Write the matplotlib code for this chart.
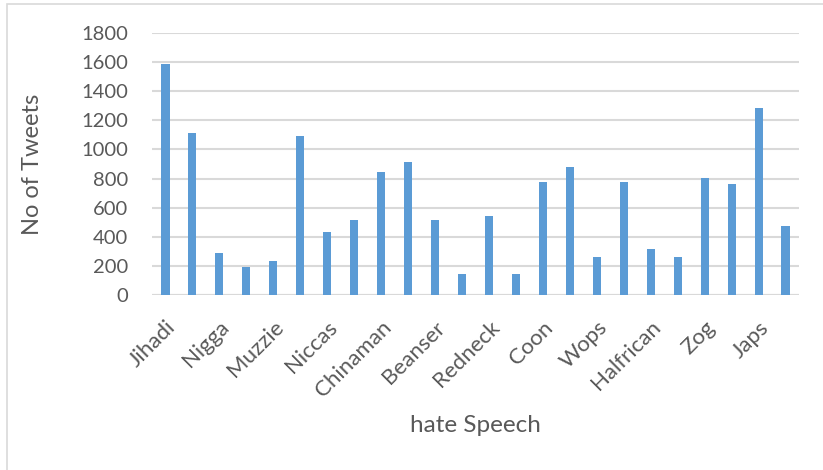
import matplotlib.pyplot as plt
from matplotlib.patches import Rectangle

# tweet counts per hate-speech term (24 terms, every other one labelled)
counts = [1585, 1115, 288, 195, 231, 1090, 435, 515, 845, 916, 515, 147,
          543, 144, 774, 882, 259, 778, 314, 259, 804, 760, 1283, 476]
tick_labels = ['Jihadi', 'Nigga', 'Muzzie', 'Niccas', 'Chinaman', 'Beanser',
               'Redneck', 'Coon', 'Wops', 'Halfrican', 'Zog', 'Japs']
yticks = [0, 200, 400, 600, 800, 1000, 1200, 1400, 1600, 1800]

plt.rcParams['font.family'] = ['Lato', 'DejaVu Sans']
grey = '#595959'

fig = plt.figure(figsize=(8.23, 4.70), dpi=100)
ax = fig.add_axes([152 / 823, 1 - 295 / 470, 647 / 823, 262 / 470])

x = list(range(len(counts)))
ax.bar(x, counts, width=0.3, color='#5b9bd5', zorder=3)

ax.set_xlim(-0.5, len(counts) - 0.5)
ax.set_ylim(0, 1800)
ax.set_yticks(yticks)
ax.set_yticklabels([str(v) for v in yticks], fontsize=14.5, color=grey)
ax.set_xticks(x[::2])
ax.set_xticklabels(tick_labels, rotation=45, ha='right', va='top',
                   rotation_mode='anchor', fontsize=16, color=grey)

ax.grid(axis='y', color='#d9d9d9', linewidth=1.5, zorder=0)
ax.tick_params(axis='y', length=0, pad=17)
ax.tick_params(axis='x', length=0, pad=16)
for s in ax.spines.values():
    s.set_visible(False)
ax.axhline(0, color='#d9d9d9', linewidth=1.5, zorder=2)

ax.set_ylabel('No of Tweets', fontsize=17, color=grey)
ax.yaxis.set_label_coords(-109 / 647, 0.5)
ax.set_xlabel('hate Speech', fontsize=17.5, color=grey)
ax.xaxis.set_label_coords(0.5, -120 / 262)

# thin frame around the chart area
fig.patches.append(Rectangle((7 / 823, -5 / 470), 830 / 823, 471 / 470,
                             transform=fig.transFigure, fill=False,
                             edgecolor='#d9d9d9', linewidth=1.2))

fig.savefig('out.png', dpi=100)
